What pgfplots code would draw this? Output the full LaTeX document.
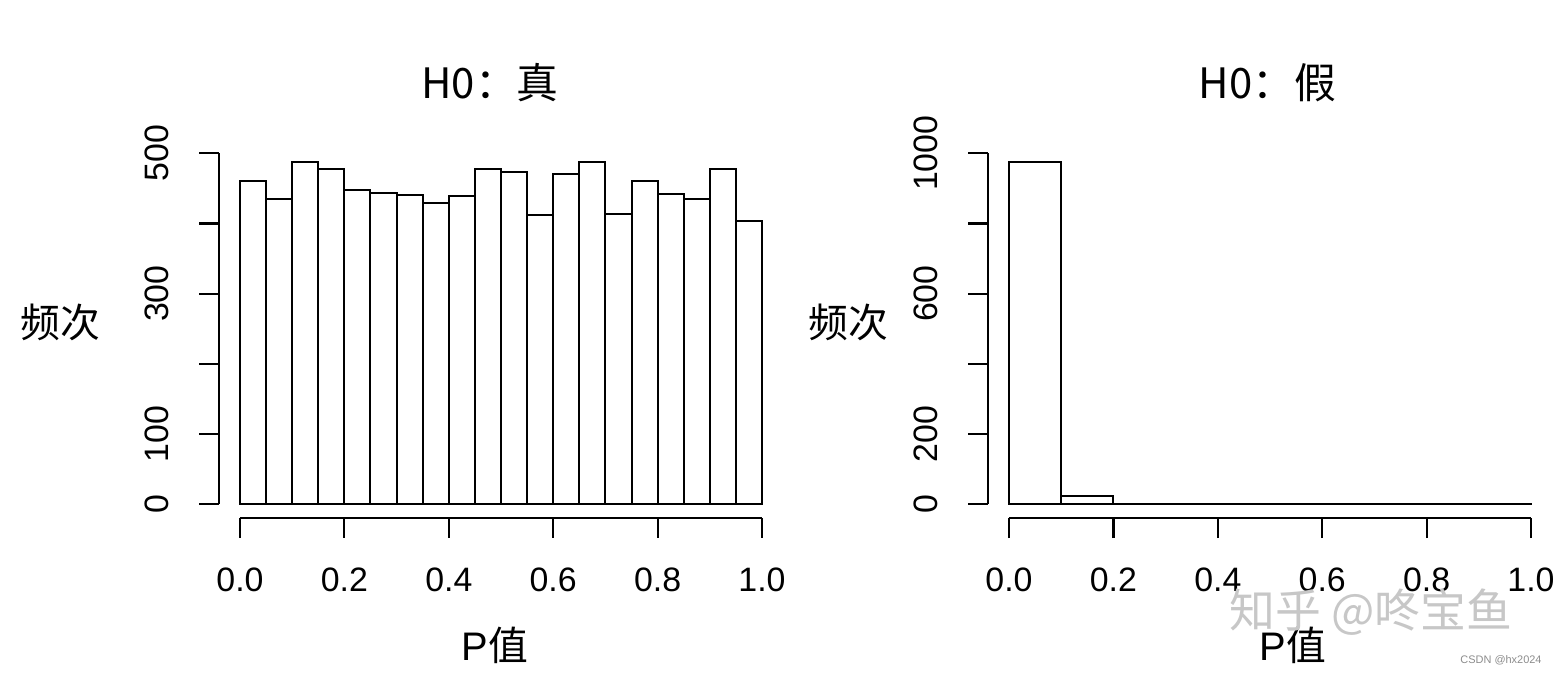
\documentclass[border=0pt]{standalone}
\usepackage{pgfplots}
\usepackage{pgfplotstable}
\pgfplotsset{compat=1.18}
\usepackage{fontspec}
\setmainfont{Liberation Sans}
\newfontfamily\cjk{Noto Sans CJK SC}

\pgfplotstableread{
x y
0.00 461
0.05 435
0.10 487
0.15 478
0.20 447
0.25 444
0.30 441
0.35 429
0.40 439
0.45 478
0.50 473
0.55 412
0.60 470
0.65 487
0.70 414
0.75 460
0.80 442
0.85 435
0.90 477
0.95 404
1.00 404
}\leftdata

\pgfplotstableread{
x y
0.0 974
0.1 23
0.2 1
0.3 0
0.4 1
0.5 1
0.6 0
0.7 0
0.8 0
0.9 1
1.0 1
}\rightdata

\begin{document}
\begin{tikzpicture}
\path[use as bounding box] (0,0) rectangle (779bp,337bp);
\pgfplotsset{rstyle/.style={
  scale only axis, width=281.9bp, height=184.65bp,
  anchor=south west, xmin=-0.04, xmax=1.04,
  axis x line*=bottom, axis y line*=left, axis line style={draw=none},
  tick align=outside, major tick length=10bp,
  tick style={black, line width=1.1bp},
  xtick={0,0.2,0.4,0.6,0.8,1},
  xticklabels={0.0,0.2,0.4,0.6,0.8,1.0},
  tick label style={font=\fontsize{17}{17}\selectfont},
  yticklabel style={rotate=90, anchor=south},
  xticklabel shift=11.5bp, yticklabel shift=11.5bp,
  clip=false,
}}
\begin{axis}[rstyle, at={(109.55bp,78bp)}, ymin=-19.48, ymax=506.48,
  ytick={0,100,200,300,400,500}, yticklabels={0,100,,300,,500}]
\addplot[ybar interval, fill=white, draw=black, line width=1bp] table[x=x,y=y]{\leftdata};
\draw[line width=1.1bp] (axis cs:0,-19.48) -- (axis cs:1,-19.48);
\draw[line width=1.1bp] (axis cs:-0.04,0) -- (axis cs:-0.04,500);
\end{axis}
\begin{axis}[rstyle, at={(494.05bp,78bp)}, ymin=-38.96, ymax=1012.96,
  ytick={0,200,400,600,800,1000}, yticklabels={0,200,,600,,1000}]
\addplot[ybar interval, fill=white, draw=black, line width=1bp] table[x=x,y=y]{\rightdata};
\draw[line width=1.1bp] (axis cs:0,-38.96) -- (axis cs:1,-38.96);
\draw[line width=1.1bp] (axis cs:-0.04,0) -- (axis cs:-0.04,1000);
\end{axis}
% titles
\node[font=\cjk\fontsize{21}{21}\selectfont] at (245bp,295.5bp) {H0：真};
\node[font=\cjk\fontsize{21}{21}\selectfont] at (633.75bp,295.5bp) {H0：假};
% y labels
\node[font=\cjk\fontsize{20}{20}\selectfont] at (30bp,176bp) {频次};
\node[font=\cjk\fontsize{20}{20}\selectfont] at (424bp,176bp) {频次};
% x labels
\node[font=\fontsize{20}{20}\selectfont] at (247.5bp,14.5bp) {P{\cjk 值}};
\node[font=\fontsize{20}{20}\selectfont] at (646.5bp,14.5bp) {P{\cjk 值}};
% watermarks
\node[font=\cjk\fontsize{23}{23}\selectfont, text=black!22] at (685.5bp,31bp) {知乎 @咚宝鱼};
\node[font=\fontsize{5.5}{5.5}\selectfont, text=black!45] at (750.5bp,7bp) {CSDN @hx2024};
\end{tikzpicture}
\end{document}
